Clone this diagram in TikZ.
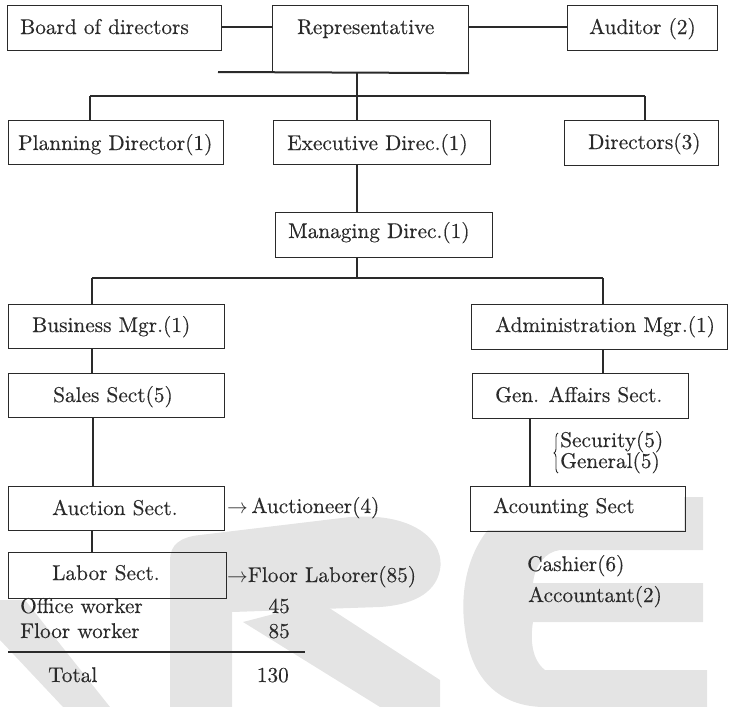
\documentclass[tikz,border=0pt]{standalone}
\usepackage{fontspec}
\setmainfont{lmroman10-regular.otf}[FakeBold=0.35]
\usetikzlibrary{calc,decorations.pathreplacing}
\definecolor{ink}{HTML}{2A2A2A}
\definecolor{logogrey}{HTML}{E4E4E4}
\tikzset{
  box/.style={draw=ink, line width=1.1pt, rectangle, inner sep=0pt, anchor=north west},
  lbl/.style={text=ink, inner sep=0pt, anchor=base west, font=\fontsize{21.3}{24}\selectfont},
  link/.style={draw=ink, line width=1.1pt},
  heavy/.style={draw=ink, line width=2pt},
}
\newcommand{\boxat}[5]{\node[box, minimum width=#4pt-#2pt, minimum height=#5pt-#3pt] (#1) at (#2,#3) {};}
\begin{document}
\begin{tikzpicture}[x=1pt, y=-1pt]
\useasboundingbox (0,0) rectangle (729,707);
% background logo: letter R
\fill[logogrey] (170,707) -- (170,560) .. controls (170,545) and (180,537) .. (200,535)
  -- (350,517) .. controls (420,512) and (445,545) .. (440,570)
  .. controls (435,595) and (410,605) .. (380,607) -- (232,612) -- (232,707) -- cycle;
\fill[logogrey] (243,622) -- (320,602) -- (440,680) -- (440,707) -- (380,707) -- cycle;
% background logo: slanted stroke at the left
\fill[logogrey] (0,600) -- (25,600) -- (110,707) -- (63,707) -- (0,640) -- cycle;
% background logo: letter E
\fill[logogrey] (703,497) -- (560,497) .. controls (490,497) and (455,560) .. (465,630)
  .. controls (472,685) and (505,707) .. (545,707) -- (707,707) -- (707,670) -- (545,670)
  .. controls (532,660) and (530,640) .. (533,622) -- (703,622) -- (703,583) -- (533,583)
  .. controls (535,565) and (545,552) .. (560,550) -- (703,550) -- cycle;
\fill[white] (471,487) rectangle (684,530);
% boxes
\boxat{board}{7}{5}{221}{50}
\boxat{rep}{272}{5}{468}{72}
\boxat{aud}{567}{5}{717}{50}
\boxat{plan}{8}{120}{223}{164}
\boxat{exec}{273}{120}{490}{164}
\boxat{dirs}{564}{120}{718}{165}
\boxat{mng}{275}{212}{492}{257}
\boxat{bus}{8}{304}{224}{348}
\boxat{adm}{471}{304}{727}{349}
\boxat{sales}{8}{373}{224}{417}
\boxat{gen}{472}{373}{688}{418}
\boxat{auc}{8}{486}{224}{530}
\boxat{lab}{8}{552}{226}{598}
\boxat{acc}{470}{486}{685}{531}
% texts
\node[lbl] (tboard) at (20,34) {Board of directors};
\node[lbl] (trep) at (297,34) {Representative};
\node[lbl] (taud) at (589,34) {Auditor (2)};
\node[lbl] (tplan) at (18,150) {Planning Director(1)};
\node[lbl] (texec) at (287,150) {Executive Direc.(1)};
\node[lbl] (tdirs) at (588,149) {Directors(3)};
\node[lbl] (tmng) at (288,238) {Managing Direc.(1)};
\node[lbl] (tbus) at (32,332) {Business Mgr.(1)};
\node[lbl] (tadm) at (495,332) {Administration Mgr.(1)};
\node[lbl] (tsales) at (53,402) {Sales Sect(5)};
\node[lbl] (tgen) at (495,402) {Gen. Affairs Sect.};
\node[lbl] (tauc) at (52,515) {Auction Sect.};
\node[lbl] (tlab) at (52,580) {Labor Sect.};
\node[lbl] (tacc) at (493,513) {Acounting Sect};
\node[lbl] (tauct) at (227,513) {$\rightarrow$\,Auctioneer(4)};
\node[lbl] (tfloor) at (227,582) {$\rightarrow$Floor Laborer(85)};
\node[lbl] (tsecu) at (560,447) {Security(5)};
\node[lbl] (tgenl) at (560,468) {General(5)};
\coordinate (brt) at (558,433);
\coordinate (brb) at (558,473);
\draw[draw=ink, line width=0.9pt, decorate, decoration={brace, amplitude=4pt}] (brb) -- (brt);
\node[lbl] (tcash) at (527,571) {Cashier(6)};
\node[lbl] (tacct) at (528,602) {Accountant(2)};
\node[lbl] (toff) at (20,613) {Office worker};
\node[lbl] (tflw) at (20,638) {Floor worker};
\node[lbl] (ttot) at (48,682) {Total};
\node[lbl, anchor=base east] (n45) at (290,613) {45};
\node[lbl, anchor=base east] (n85) at (290,638) {85};
\node[lbl, anchor=base east] (n130) at (289,682) {130};
\coordinate (rl) at (8,652);
\coordinate (rr) at (305,652);
\draw[link] (rl) -- (rr);
% connectors
\draw[link] (board.east |- 0,27) -- (rep.west |- 0,27);
\draw[link] (rep.east |- 0,27) -- (aud.west |- 0,27);
\coordinate (rb) at (218,72);
\draw[heavy] (rb) -- (rep.south east);
\coordinate (j1) at (357,96);
\coordinate (b1l) at (90,96);
\coordinate (b1r) at (645,96);
\draw[link] (j1 |- rep.south) -- (j1);
\draw[link] (b1l) -- (b1r);
\draw[link] (b1l) -- (b1l |- plan.north);
\draw[link] (j1) -- (j1 |- exec.north);
\draw[link] (b1r) -- (b1r |- dirs.north);
\draw[link] (j1 |- exec.south) -- (j1 |- mng.north);
\coordinate (j2) at (357,278);
\coordinate (b2l) at (92,278);
\coordinate (b2r) at (603,278);
\draw[link] (j2 |- mng.south) -- (j2);
\draw[link] (b2l) -- (b2r);
\draw[link] (b2l) -- (b2l |- bus.north);
\draw[link] (b2r) -- (b2r |- adm.north);
\draw[link] (b2l |- bus.south) -- (b2l |- sales.north);
\draw[heavy] ($(b2l |- sales.south)+(1,0)$) -- ($(b2l |- auc.north)+(1,0)$);
\draw[link] (b2l |- auc.south) -- (b2l |- lab.north);
\draw[link] (b2r |- adm.south) -- (b2r |- gen.north);
\coordinate (j3) at (530,450);
\draw[heavy] (j3 |- gen.south) -- (j3 |- acc.north);
\end{tikzpicture}
\end{document}
